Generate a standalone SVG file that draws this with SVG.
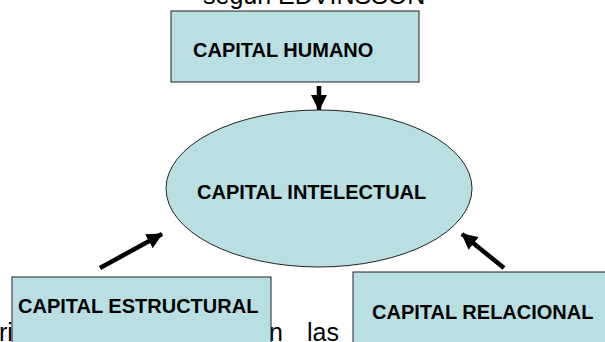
<svg xmlns="http://www.w3.org/2000/svg" width="605" height="342" viewBox="0 0 605 342">
  <style>
    .bg { font-family: "Liberation Sans", Arial, sans-serif; font-size: 25px; fill: #000; }
    .box { fill: #BADFE3; stroke: #222; stroke-width: 1; }
    .lbl { font-family: "Liberation Sans", Arial, sans-serif; font-size: 20px; font-weight: bold; fill: #000; }
    .conn { stroke: #000; stroke-width: 4.5; fill: none; marker-end: url(#head); }
  </style>
  <defs>
    <marker id="head" viewBox="0 0 16 16" refX="15" refY="8" markerWidth="16" markerHeight="16" markerUnits="userSpaceOnUse" orient="auto">
      <path d="M0,0 L16,8 L0,16 z" fill="#000"/>
    </marker>
  </defs>
  <rect width="605" height="342" fill="#fff"/>

  <!-- surrounding page text -->
  <text class="bg" x="203" y="4">según EDVINSSON</text>
  <text class="bg" x="-1" y="341">rio</text>
  <text class="bg" x="269" y="341">n</text>
  <text class="bg" x="307" y="341">las</text>

  <g id="connectors">
    <line class="conn" x1="319" y1="86" x2="319" y2="110"/>
    <line class="conn" x1="100" y1="268" x2="162" y2="234"/>
    <line class="conn" x1="504" y1="268" x2="462" y2="234"/>
  </g>

  <g id="capital-humano">
    <rect class="box" x="171" y="11" width="248" height="71"/>
    <text class="lbl" x="193" y="57">CAPITAL HUMANO</text>
  </g>

  <g id="capital-intelectual">
    <ellipse class="box" cx="319" cy="188.5" rx="153" ry="78.5"/>
    <text class="lbl" x="197" y="199">CAPITAL INTELECTUAL</text>
  </g>

  <g id="capital-estructural">
    <rect class="box" x="12" y="277" width="259" height="80"/>
    <text class="lbl" x="18" y="313">CAPITAL ESTRUCTURAL</text>
  </g>

  <g id="capital-relacional">
    <rect class="box" x="353" y="272" width="270" height="85"/>
    <text class="lbl" x="372" y="319">CAPITAL RELACIONAL</text>
  </g>
</svg>
